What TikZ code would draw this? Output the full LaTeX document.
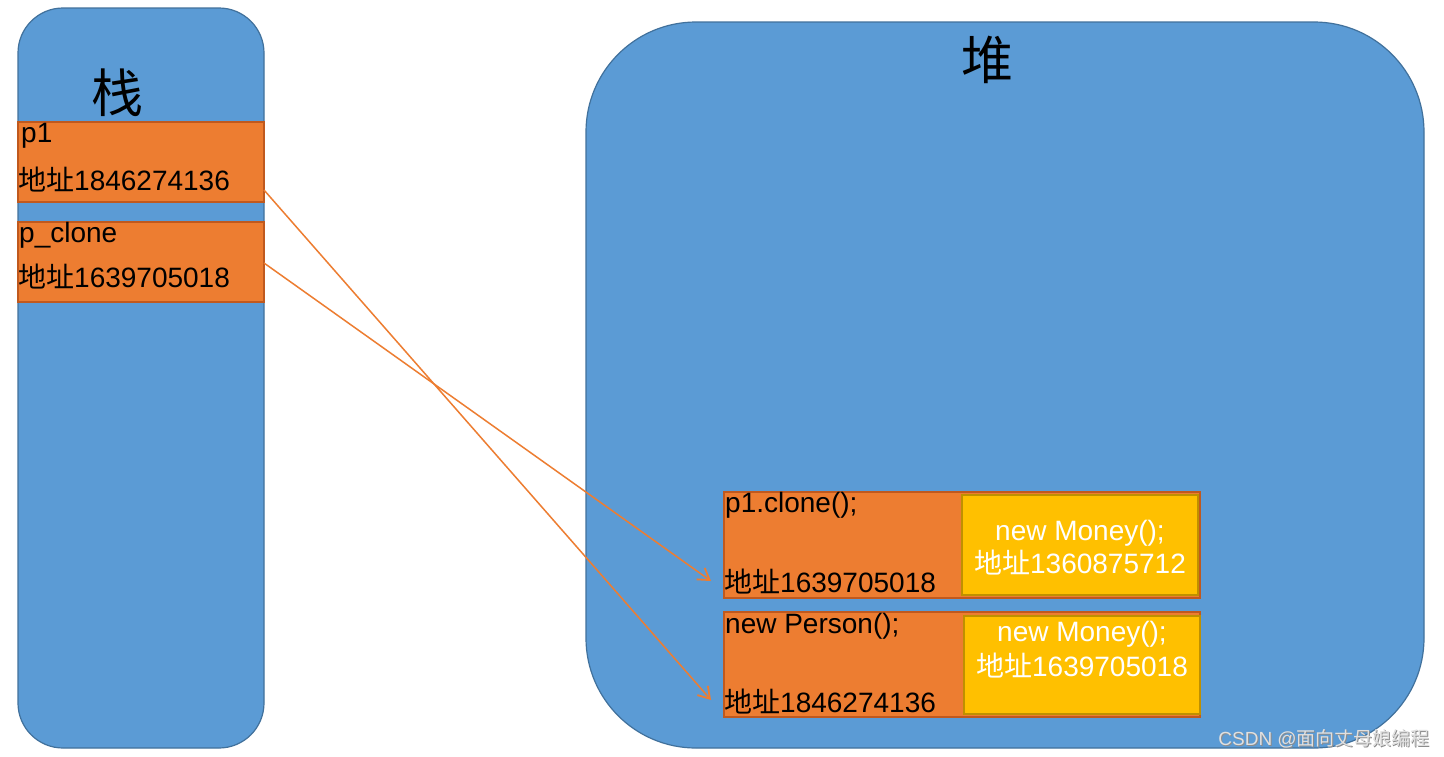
\documentclass[tikz,border=0pt]{standalone}
\usepackage{fontspec}
\setmainfont{Liberation Sans}
\newfontfamily\cjk{Noto Sans CJK SC}
\usetikzlibrary{arrows.meta,calc}
\definecolor{blueF}{HTML}{5B9BD5}
\definecolor{blueD}{HTML}{41719C}
\definecolor{orF}{HTML}{ED7D31}
\definecolor{orD}{HTML}{C0591E}
\definecolor{yeF}{HTML}{FFC000}
\definecolor{yeD}{HTML}{BF9000}
\newcommand{\dz}{{\cjk 地址}}
\begin{document}
\begin{tikzpicture}[x=1pt,y=-1pt,
  region/.style={draw=blueD, fill=blueF, line width=1.2pt, inner sep=0pt, outer sep=0pt},
  objbox/.style={draw=orD, fill=orF, line width=1.4pt, inner sep=0pt, outer sep=0pt},
  moneybox/.style={draw=yeD, fill=yeF, line width=1.4pt, inner sep=0pt, outer sep=0pt},
  lbl/.style={inner sep=0pt, font=\fontsize{28}{32}\selectfont, anchor=base west},
  wlbl/.style={inner sep=0pt, font=\fontsize{28}{32}\selectfont, anchor=base, text=white},
  title/.style={inner sep=0pt, font=\cjk\fontsize{52}{56}\selectfont},
  ref/.style={draw=orF, line width=1.5pt, -{Straight Barb[length=11pt,width=14pt,line width=1.8pt]}}
]
\useasboundingbox (0,0) rectangle (1444,756);
\fill[white] (0,0) rectangle (1444,756);
% stack
\node[region, rounded corners=45pt, minimum width=246pt, minimum height=740pt] (stack) at (141,378) {};
\node[title] (stacktitle) at (117,93) {栈};
\node[objbox, minimum width=246pt, minimum height=80pt] (p1box) at (141,162) {};
\node[lbl] (p1name) at (21,142) {p1};
\node[lbl] (p1addr) at (18,190) {\dz 1846274136};
\node[objbox, minimum width=246pt, minimum height=80pt] (pcbox) at (141,262) {};
\node[lbl] (pcname) at (19,242) {p\_clone};
\node[lbl] (pcaddr) at (18,287) {\dz 1639705018};
% heap
\node[region, rounded corners=110pt, minimum width=838pt, minimum height=726pt] (heap) at (1005,385) {};
\node[title] (heaptitle) at (987,60) {堆};
% clone object
\node[objbox, minimum width=476pt, minimum height=106pt] (clonebox) at (962,545) {};
\node[moneybox, minimum width=236pt, minimum height=100pt] (money1) at (1080,545) {};
\node[lbl] (clonename) at (725,512) {p1.clone();};
\node[lbl] (cloneaddr) at (724,592) {\dz 1639705018};
\node[wlbl] (m1name) at (1080,540) {new Money();};
\node[wlbl] (m1addr) at (1080,573) {\dz 1360875712};
% person object
\node[objbox, minimum width=476pt, minimum height=105pt] (personbox) at (962,664.5) {};
\node[moneybox, minimum width=236pt, minimum height=98pt] (money2) at (1082,665) {};
\node[lbl] (personname) at (725,633) {new Person();};
\node[lbl] (personaddr) at (724,712) {\dz 1846274136};
\node[wlbl] (m2name) at (1082,641) {new Money();};
\node[wlbl] (m2addr) at (1082,676) {\dz 1639705018};
% references
\coordinate (tipA) at (711,581);
\coordinate (tipB) at (711,700);
\draw[ref] ($(p1box.south east)+(0,-12)$) -- (tipB);
\draw[ref] ($(pcbox.east)+(0,1)$) -- (tipA);
% watermark
\node[inner sep=0pt, anchor=base east, text=black!45, font=\fontsize{19}{22}\selectfont] (wmshadow) at (1431,746) {CSDN @{\cjk 面向丈母娘编程}};
\node[inner sep=0pt, anchor=base east, text=white!88!black, font=\fontsize{19}{22}\selectfont] (wm) at (1430,745) {CSDN @{\cjk 面向丈母娘编程}};
\end{tikzpicture}
\end{document}
